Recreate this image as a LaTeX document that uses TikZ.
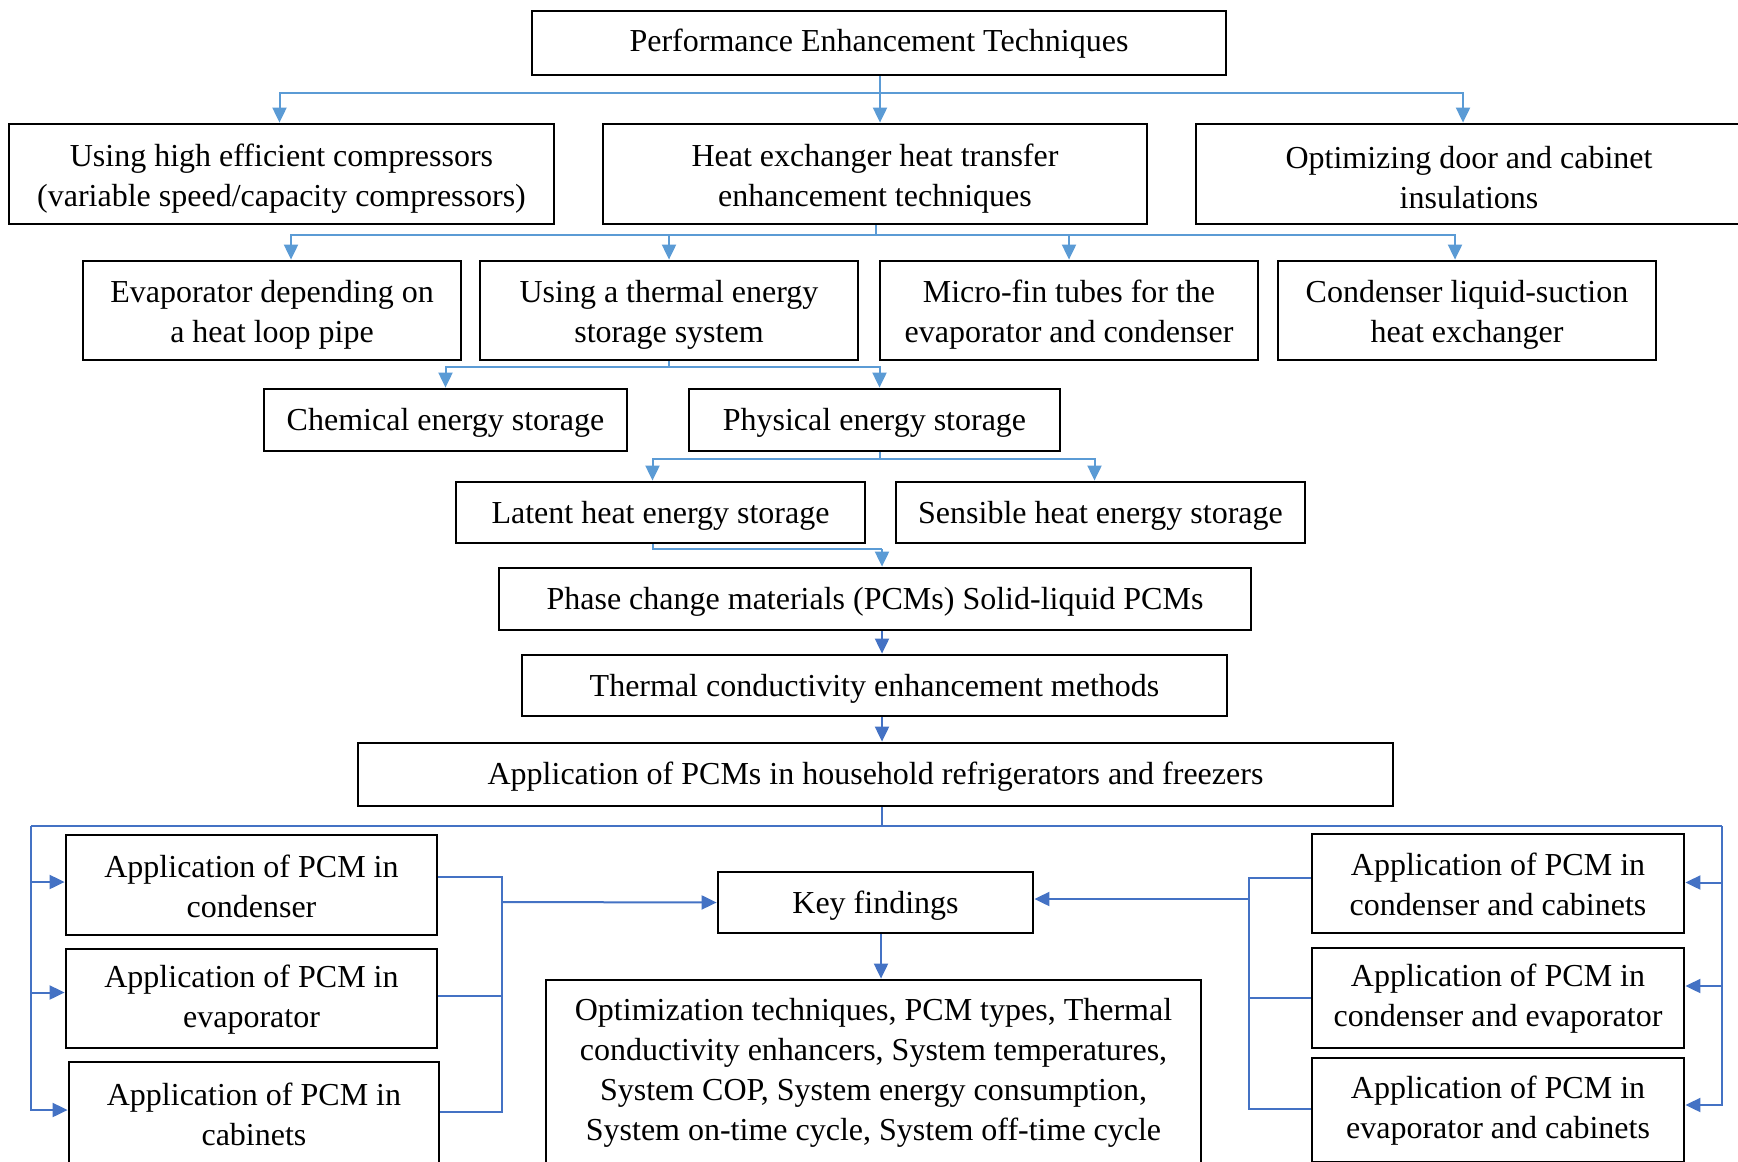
\documentclass[tikz,border=0pt]{standalone}
\usepackage{fontspec}
\setmainfont{Liberation Serif}
\usetikzlibrary{arrows.meta}
\definecolor{lb}{HTML}{5B9BD5}
\definecolor{db}{HTML}{4472C4}
% [text shift px]{name}{x1}{y1}{x2}{y2}{text}
\newcommand\bx[7][0]{%
  \node[box, minimum width={(#5-#3)*0.5pt}, minimum height={(#6-#4)*0.5pt}] (#2) at ({(#3+#5)/2},{(#4+#6)/2}) {};
  \node[txt] at ([yshift={-#1*0.5pt}]#2.center) {#7};}
\begin{document}
\begin{tikzpicture}[x=0.5pt,y=-0.5pt,
  box/.style={draw, line width=1.4pt, inner sep=0pt},
  txt/.style={align=center, font=\fontsize{16}{20}\selectfont, inner sep=0pt},
  conn/.style={draw=lb, line width=1pt},
  arr/.style={conn, -{Triangle[length=7.5pt,width=7pt]}},
  dconn/.style={draw=db, line width=1pt},
  darr/.style={dconn, -{Triangle[length=7.5pt,width=7pt]}}]
\useasboundingbox (0,0) rectangle (1738,1161);
\clip (0,0) rectangle (1738,1161);
\fill[white] (0,0) rectangle (1738,1161);
% boxes
\bx[1]{top}{532}{11}{1226}{75}{Performance Enhancement Techniques}
\bx[5]{ra}{9}{124}{554}{224}{Using high efficient compressors\\(variable speed/capacity compressors)}
\bx[5]{rb}{603}{124}{1147}{224}{Heat exchanger heat transfer\\enhancement techniques}
\bx[4]{rc}{1196}{124}{1742}{224}{Optimizing door and cabinet\\insulations}
\bx[4.5]{sa}{83}{261}{461}{360}{Evaporator depending on\\a heat loop pipe}
\bx[4.5]{sb}{480}{261}{858}{360}{Using a thermal energy\\storage system}
\bx[4.5]{sc}{880}{261}{1258}{360}{Micro-fin tubes for the\\evaporator and condenser}
\bx[4.5]{sd}{1278}{261}{1656}{360}{Condenser liquid-suction\\heat exchanger}
\bx[2.5]{chem}{264}{389}{627}{451}{Chemical energy storage}
\bx[2.5]{phys}{689}{389}{1060}{451}{Physical energy storage}
\bx[3]{lat}{456}{482}{865}{543}{Latent heat energy storage}
\bx[3]{sens}{896}{482}{1305}{543}{Sensible heat energy storage}
\bx[3]{pcm}{499}{568}{1251}{630}{Phase change materials (PCMs) Solid-liquid PCMs}
\bx[3]{tc}{522}{655}{1227}{716}{Thermal conductivity enhancement methods}
\bx[2]{app}{358}{743}{1393}{806}{Application of PCMs in household refrigerators and freezers}
\bx[1]{la}{66}{835}{437}{935}{Application of PCM in\\condenser}
\bx[1]{lbx}{66}{949}{437}{1048}{Application of PCM in\\evaporator}
\bx[1]{lc}{69}{1062}{439}{1164}{Application of PCM in\\cabinets}
\bx[3]{kf}{718}{872}{1033}{933}{Key findings}
\bx[0]{res}{546}{980}{1201}{1166}{Optimization techniques, PCM types, Thermal\\conductivity enhancers, System temperatures,\\System COP, System energy consumption,\\System on-time cycle, System off-time cycle}
\bx[1]{rA}{1312}{834}{1684}{933}{Application of PCM in\\condenser and cabinets}
\bx[1]{rB}{1312}{948}{1684}{1048}{Application of PCM in\\condenser and evaporator}
\bx[1]{rC}{1312}{1058}{1684}{1162}{Application of PCM in\\evaporator and cabinets}
% connectors level 1
\coordinate (b1) at (880,93);
\draw[conn] (b1 |- top.south) -- (b1);
\draw[arr] (b1) -| ([xshift=-1pt]ra.north);
\draw[arr] (b1) -- (b1 |- rb.north);
\draw[arr] (b1) -| ([xshift=-3pt]rc.north);
% level 2
\coordinate (b2) at (876,235);
\draw[conn] (b2 |- rb.south) -- (b2);
\draw[arr] (b2) -| ([xshift=9.5pt]sa.north);
\draw[arr] (b2) -| (sb.north);
\draw[arr] (b2) -| (sc.north);
\draw[arr] (b2) -| ([xshift=-6pt]sd.north);
% level 3
\coordinate (b3) at (669,367);
\draw[conn] (b3 |- sb.south) -- (b3);
\draw[arr] (b3) -| (chem.north);
\draw[arr] (b3) -| ([xshift=2.5pt]phys.north);
% level 4
\coordinate (b4) at (880,459);
\draw[conn] (b4 |- phys.south) -- (b4);
\draw[arr] (b4) -| ([xshift=-4pt]lat.north);
\draw[arr] (b4) -| ([xshift=-3pt]sens.north);
% latent -> pcm
\coordinate (b5) at (882,549);
\draw[conn] ([xshift=-4pt]lat.south) |- (b5);
\draw[arr] (b5) -- (b5 |- pcm.north);
\draw[darr] (b5 |- pcm.south) -- (b5 |- tc.north);
\draw[darr] (b5 |- tc.south) -- (b5 |- app.north);
% bottom bus
\coordinate (b6) at (882,826);
\coordinate (bl) at (31,826);
\coordinate (br) at (1722,826);
\draw[dconn] (b6 |- app.south) -- (b6);
\draw[dconn] (bl) -- (br);
\draw[darr] (bl) |- ([yshift=1.5pt]la.west);
\draw[darr] (bl) |- ([yshift=3pt]lbx.west);
\draw[darr] (bl) |- ([yshift=1.5pt]lc.west);
\draw[darr] (br) |- ([yshift=0.5pt]rA.east);
\draw[darr] (br) |- ([yshift=6pt]rB.east);
\draw[darr] (br) |- ([yshift=2.5pt]rC.east);
% left group to key findings
\coordinate (gl) at (502,902);
\draw[dconn] ([yshift=4pt]la.east) -| (gl);
\draw[dconn] ([yshift=1.5pt]lbx.east) -| (gl);
\draw[dconn] ([yshift=0.5pt]lc.east) -| (gl);
\draw[darr] (gl) -- (kf.west);
% right group to key findings
\coordinate (gr) at (1249,899);
\draw[dconn] ([yshift=3pt]rA.west) -| (gr);
\draw[dconn] (rB.west) -| (gr);
\draw[dconn] ([yshift=0.5pt]rC.west) -| (gr);
\draw[darr] (gr) -- (gr -| kf.east);
% key findings to results
\coordinate (k) at (881,0);
\draw[darr] (k |- kf.south) -- (k |- res.north);
\end{tikzpicture}
\end{document}
